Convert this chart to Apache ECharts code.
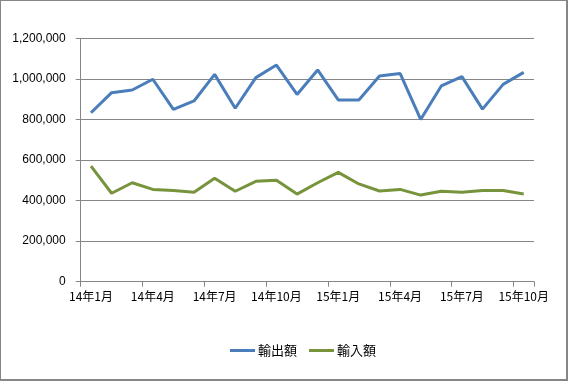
<!DOCTYPE html>
<html><head><meta charset="utf-8">
<script src="https://cdn.jsdelivr.net/npm/echarts@6/dist/echarts.min.js"></script>
<style>
html,body{margin:0;padding:0;background:#fff;}
#c{position:absolute;left:0;top:0;width:568px;height:381px;}
#b{position:absolute;left:0;top:0;width:568px;height:381px;box-sizing:border-box;border-style:solid;border-color:#868686;border-width:1px 2px 2px 1px;pointer-events:none;}
</style></head>
<body><div id="c"></div><div id="b"></div>
<script>
const categories = ['14年1月','14年2月','14年3月','14年4月','14年5月','14年6月','14年7月','14年8月','14年9月','14年10月','14年11月','14年12月',
  '15年1月','15年2月','15年3月','15年4月','15年5月','15年6月','15年7月','15年8月','15年9月','15年10月'];
const exportsVal = [833000,932000,945000,998000,850000,891000,1022000,855000,1006000,1068000,923000,1044000,
  896000,896000,1014000,1027000,800000,965000,1011000,851000,973000,1032000];
const importsVal = [570000,436000,488000,455000,450000,441000,510000,446000,495000,500000,432000,488000,
  539000,482000,447000,455000,427000,446000,441000,450000,450000,432000];
const yTicks = [0,200000,400000,600000,800000,1000000,1200000];

const chart = echarts.init(document.getElementById('c'));
const font = '"Liberation Sans", Arial, "Noto Sans CJK JP", sans-serif';
chart.setOption({
  animation:false,
  backgroundColor:'#fff',
  grid:{left:80.7,right:34,top:38.3,bottom:99.3,containLabel:false},
  legend:{
    left:225, top:339, itemWidth:25, itemHeight:3, itemGap:12,
    icon:'rect',
    textStyle:{fontFamily:'"Noto Sans CJK JP", sans-serif',fontSize:13,color:'#000',padding:[0,0,0,-2]},
    data:['輸出額','輸入額']
  },
  xAxis:{
    type:'category', data:categories, boundaryGap:true,
    axisLine:{lineStyle:{color:'#868686',width:1}},
    axisTick:{show:true,length:5,interval:function(i){return i%3===0;},lineStyle:{color:'#868686'}},
    axisLabel:{interval:function(i){return i%3===0;},fontFamily:'"Noto Sans CJK JP", sans-serif',fontSize:12,color:'#000',margin:9},
    splitLine:{show:false}
  },
  yAxis:{
    type:'value', min:yTicks[0], max:yTicks[yTicks.length-1], interval:200000,
    axisLine:{show:true,lineStyle:{color:'#868686'}},
    axisTick:{show:true,length:5,lineStyle:{color:'#868686'}},
    axisLabel:{fontFamily:font,fontSize:12,color:'#000',margin:15,
      formatter:function(v){return v.toLocaleString('en-US');}},
    splitLine:{lineStyle:{color:'#868686',width:1}}
  },
  series:[
    {name:'輸出額',type:'line',data:exportsVal,symbol:'none',lineStyle:{color:'#4A7EBB',width:3},itemStyle:{color:'#4A7EBB'}},
    {name:'輸入額',type:'line',data:importsVal,symbol:'none',lineStyle:{color:'#77933C',width:3},itemStyle:{color:'#77933C'}}
  ]
});
</script></body></html>
